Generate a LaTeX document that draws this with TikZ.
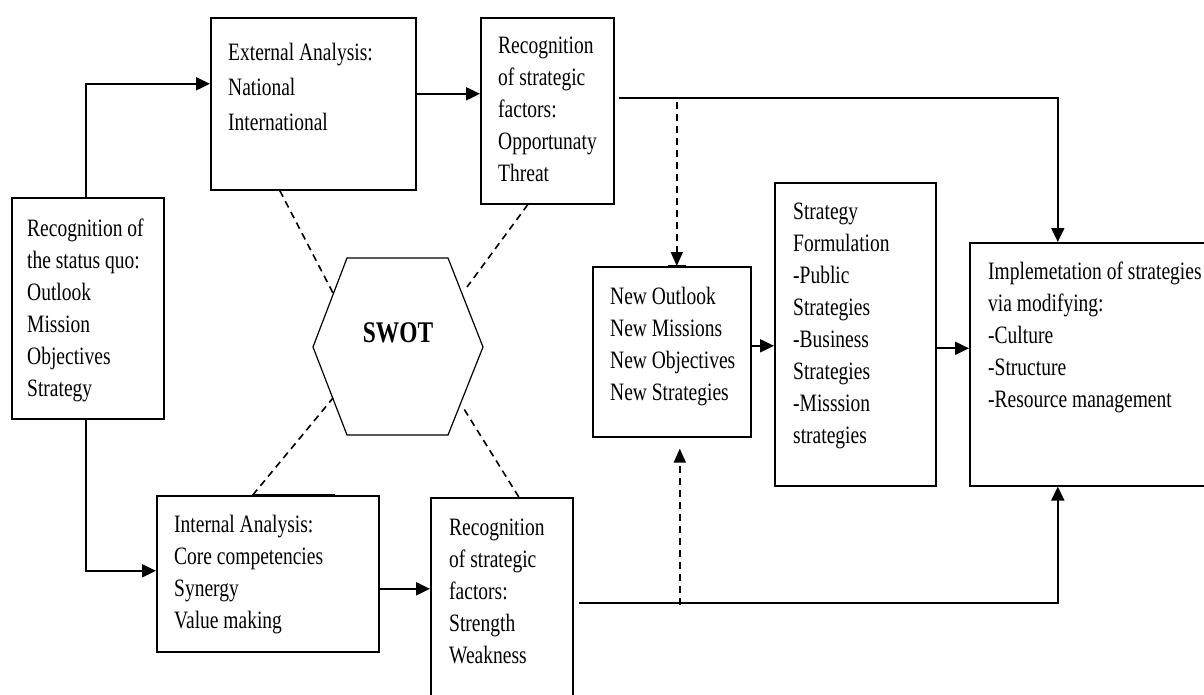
\documentclass[tikz,border=0pt]{standalone}
\usepackage{fontspec}
\setmainfont{Liberation Serif}[FakeStretch=0.78]
\usetikzlibrary{positioning}
\usetikzlibrary{arrows.meta}

\begin{document}
\begin{tikzpicture}[x=1pt, y=-1pt,
        box/.style={draw, line width=1.6pt, inner sep=0pt, anchor=north west},
        txt/.style={inner sep=0pt, align=left, anchor=north west, font=\fontsize{25}{32}\selectfont},
        arr/.style={line width=2pt, -{Triangle[length=14pt, width=13pt]}},
        dsh/.style={line width=1.6pt, dash pattern=on 7pt off 5pt},
        darr/.style={dsh, -{Triangle[length=14pt, width=12pt]}}]%
        \useasboundingbox (0,0) rectangle (1204,694);
        \clip (0,0) rectangle (1204,694);
        % boxes
        \node [box, minimum width=152, minimum height=221] (quo) at (11,197) {};
        \node [txt, below right=22pt and 16pt of quo.north west] (quotxt) {Recognition of\\the status quo:\\Outlook\\Mission\\Objectives\\Strategy};
        \node [box, minimum width=205, minimum height=172] (ext) at (210,17) {};
        \node [txt, font=\fontsize{25}{35}\selectfont, below right=26pt and 18pt of ext.north west] (exttxt) {External Analysis:\\National\\International};
        \node [box, minimum width=133, minimum height=186] (rto) at (480,17) {};
        \node [txt, below right=20pt and 18pt of rto.north west] (rtotxt) {Recognition\\of strategic\\factors:\\Opportunaty\\Threat};
        \node [box, minimum width=222, minimum height=156] (int) at (156,495) {};
        \node [txt, below right=20pt and 18pt of int.north west] (inttxt) {Internal Analysis:\\Core competencies\\Synergy\\Value making};
        \node [box, minimum width=142, minimum height=215] (rbo) at (430,497) {};
        \node [txt, below right=22pt and 19pt of rbo.north west] (rbotxt) {Recognition\\of strategic\\factors:\\Strength\\Weakness};
        \node [box, minimum width=158, minimum height=170] (new) at (592,266) {};
        \node [txt, below right=21pt and 18pt of new.north west] (newtxt) {New Outlook\\New Missions\\New Objectives\\New Strategies};
        \node [box, minimum width=161, minimum height=303] (sf) at (774,182) {};
        \node [txt, below right=21pt and 19pt of sf.north west] (sftxt) {Strategy\\Formulation\\-Public\\Strategies\\-Business\\Strategies\\-Misssion\\strategies};
        \node [box, minimum width=245, minimum height=243] (imp) at (969,242) {};
        \node [txt, below right=20pt and 19pt of imp.north west] (imptxt) {Implemetation of strategies\\via modifying:\\-Culture\\-Structure\\-Resource management};
        % hexagon
        \coordinate (hl) at (313,347);\coordinate (htl) at (347,258);\coordinate (htr) at (448,258);
        \coordinate (hr) at (483,347);\coordinate (hbr) at (448,435);\coordinate (hbl) at (347,435);
        \draw [line width=1.2pt] (hl) -- (htl) -- (htr) -- (hr) -- (hbr) -- (hbl) -- cycle;
        \node [inner sep=0pt, font=\bfseries\fontsize{30}{36}\selectfont] (swot) at (398,333) {SWOT};
        \coordinate (hexul) at (333,293);\coordinate (hexur) at (467,287);
        \coordinate (hexll) at (333,398);\coordinate (hexlr) at (464,409);
        \draw [dsh] ([xshift=-33.5]ext.south) -- (hexul);
        \draw [dsh] ([xshift=-19.5]rto.south) -- (hexur);
        \draw [dsh] ([xshift=-15]int.north) -- (hexll);
        \draw [dsh] ([xshift=17]rbo.north) -- (hexlr);
        \draw [line width=3pt] ([xshift=96]int.north west) -- ([xshift=179]int.north west);
        \draw [line width=3pt] ([xshift=76]new.north west) -- ([xshift=94]new.north west);
        % arrows
        \draw [arr] ([xshift=-2]quo.north) |- ([yshift=20]ext.west);
        \draw [arr] ([xshift=-2]quo.south) |- ([yshift=3]int.west);
        \draw [arr] ([yshift=10]ext.east) -- ([yshift=10]ext.east -| rto.west);
        \draw [arr] ([yshift=-15]int.east) -- ([yshift=-15]int.east -| rbo.west);
        \draw [arr] ([shift={(4pt,13pt)}]rto.east) -| ([xshift=-34.5]imp.north);
        \draw [arr] ([shift={(5pt,-106pt)}]rbo.north east) -| ([xshift=-34.5]imp.south);
        \draw [arr] ([yshift=6]new.east) -- ([yshift=6]new.east -| sf.west);
        \draw [arr] ([yshift=-14]sf.east) -- ([yshift=-14]sf.east -| imp.west);
        \draw [darr] ([shift={(5pt,164pt)}]new.north) -- ([xshift=5]new.north);
        \draw [darr] ([shift={(8pt,-167pt)}]new.south) -- ([shift={(8pt,-11pt)}]new.south);
    \end{tikzpicture}
\end{document}
